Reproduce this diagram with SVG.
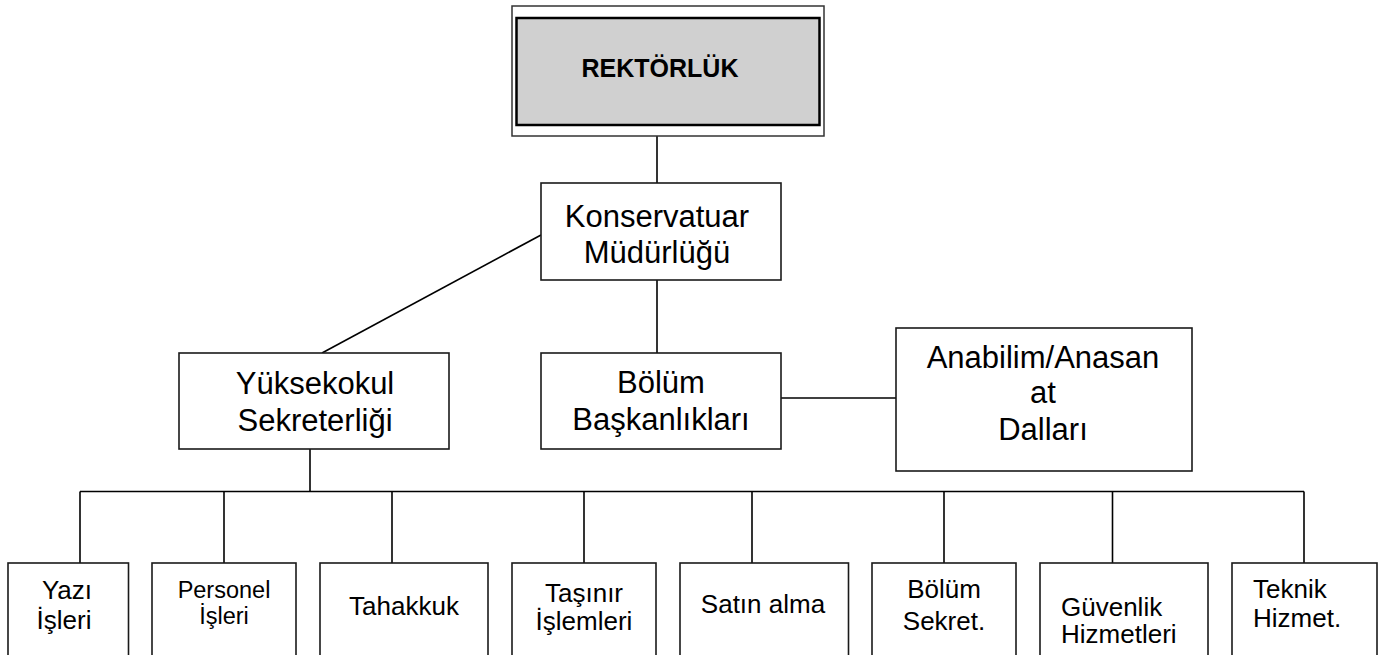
<svg xmlns="http://www.w3.org/2000/svg" width="1385" height="655" viewBox="0 0 1385 655">
<style>
.box{fill:#fff;stroke:#1a1a1a;stroke-width:1.6}
.t{font-family:"Liberation Sans",Arial,sans-serif;fill:#000;text-anchor:middle}
.m{font-size:31px}
.s{font-size:26px}
.ls{text-anchor:start}
.c{stroke:#000;stroke-width:1.6;fill:none}
</style>
<rect width="1385" height="655" fill="#fff"/>
<g id="connectors">
<line class="c" x1="657" y1="136" x2="657" y2="183"/>
<line class="c" x1="541" y1="235" x2="322" y2="353"/>
<line class="c" x1="657" y1="280" x2="657" y2="353"/>
<line class="c" x1="781" y1="398" x2="896" y2="398"/>
<line class="c" x1="310" y1="449" x2="310" y2="491.5"/>
<line class="c" x1="80" y1="491.5" x2="1304" y2="491.5"/>
<line class="c" x1="80" y1="491.5" x2="80" y2="563"/>
<line class="c" x1="224" y1="491.5" x2="224" y2="563"/>
<line class="c" x1="392" y1="491.5" x2="392" y2="563"/>
<line class="c" x1="584" y1="491.5" x2="584" y2="563"/>
<line class="c" x1="752" y1="491.5" x2="752" y2="563"/>
<line class="c" x1="944" y1="491.5" x2="944" y2="563"/>
<line class="c" x1="1112.5" y1="491.5" x2="1112.5" y2="563"/>
<line class="c" x1="1304" y1="491.5" x2="1304" y2="563"/>
</g>
<g id="rektorluk">
<rect x="512" y="6" width="312" height="130" fill="#fff" stroke="#333" stroke-width="1.5"/>
<rect x="516.5" y="18" width="303" height="107" fill="#d0d0d0" stroke="#000" stroke-width="2.5"/>
<text class="t" x="660" y="77" font-size="25" font-weight="bold">REKTÖRLÜK</text>
</g>
<g id="konservatuar">
<rect class="box" x="541" y="183" width="240" height="97"/>
<text class="t m" x="657" y="227">Konservatuar</text>
<text class="t m" x="657" y="263">Müdürlüğü</text>
</g>
<g id="yuksekokul">
<rect class="box" x="179" y="353" width="270" height="96"/>
<text class="t m" x="315" y="394">Yüksekokul</text>
<text class="t m" x="315" y="431">Sekreterliği</text>
</g>
<g id="bolum-baskanliklari">
<rect class="box" x="541" y="353" width="240" height="96"/>
<text class="t m" x="661" y="393">Bölüm</text>
<text class="t m" x="661" y="430">Başkanlıkları</text>
</g>
<g id="anabilim">
<rect class="box" x="896" y="328" width="296" height="143"/>
<text class="t m" x="1043" y="368">Anabilim/Anasan</text>
<text class="t m" x="1043" y="403">at</text>
<text class="t m" x="1043" y="440">Dalları</text>
</g>
<g id="yazi-isleri">
<rect class="box" x="8" y="563" width="120.5" height="110"/>
<text class="t s" x="67" y="599">Yazı</text>
<text class="t s" x="64" y="629">İşleri</text>
</g>
<g id="personel-isleri">
<rect class="box" x="152" y="563" width="144" height="110"/>
<text class="t" x="224" y="598" font-size="23.5">Personel</text>
<text class="t" x="224" y="624" font-size="23.5">İşleri</text>
</g>
<g id="tahakkuk">
<rect class="box" x="320" y="563" width="168" height="110"/>
<text class="t s" x="404" y="615">Tahakkuk</text>
</g>
<g id="tasinir">
<rect class="box" x="512" y="563" width="144" height="110"/>
<text class="t s" x="584" y="602">Taşınır</text>
<text class="t s" x="584" y="630">İşlemleri</text>
</g>
<g id="satin-alma">
<rect class="box" x="680" y="563" width="168.5" height="110"/>
<text class="t s" x="763" y="613">Satın alma</text>
</g>
<g id="bolum-sekret">
<rect class="box" x="872" y="563" width="144" height="110"/>
<text class="t s" x="944" y="598">Bölüm</text>
<text class="t s" x="944" y="630">Sekret.</text>
</g>
<g id="guvenlik">
<rect class="box" x="1040" y="563" width="168" height="110"/>
<text class="t s ls" x="1061" y="616">Güvenlik</text>
<text class="t s ls" x="1061" y="643">Hizmetleri</text>
</g>
<g id="teknik">
<rect class="box" x="1232" y="563" width="145" height="110"/>
<text class="t s ls" x="1253" y="598">Teknik</text>
<text class="t s ls" x="1253" y="627">Hizmet.</text>
</g>
</svg>
